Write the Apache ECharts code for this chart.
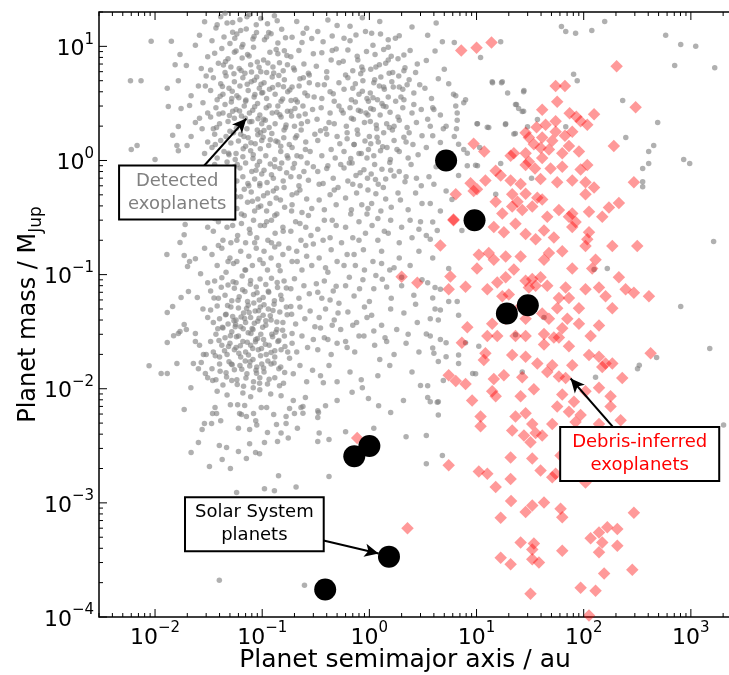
<!DOCTYPE html>
<html>
<head>
<meta charset="utf-8">
<script src="https://cdn.jsdelivr.net/npm/echarts@6/dist/echarts.min.js"></script>
<style>
  html, body { margin: 0; padding: 0; background: #fff; }
  #chart { width: 729px; height: 675px; }
</style>
</head>
<body>
<div id="chart"></div>
<script>
// axis ranges and tick values
const xRange = [0.003, 3000];
const yRange = [0.0001, 20];
const xDecades = [0.001, 0.01, 0.1, 1, 10, 100, 1000];
const yDecades = [0.0001, 0.001, 0.01, 0.1, 1, 10];
const minorMantissas = [2, 3, 4, 5, 6, 7, 8, 9];

// solar system planets [a (au), M (M_Jup)]
const solarPlanets = [
  [0.387, 1.74e-4], [0.723, 2.56e-3], [1.0, 3.15e-3], [1.524, 3.38e-4],
  [5.2, 1.0], [9.58, 0.299], [19.2, 0.0457], [30.1, 0.054]
];

// detected exoplanets, left fringe
const grayLeftFringe = [
  [0.0092,11.1],[0.0142,11.1],[0.0059,5.0],[0.0074,5.0],[0.013,4.3],[0.0165,5.0],[0.0133,2.97],[0.0154,6.9],
  [0.0171,8.5],[0.0196,6.8],[0.0238,10.2],[0.0175,2.86],[0.0165,1.99],[0.0146,1.66],[0.016,1.35],[0.0165,1.22],
  [0.0068,1.35],[0.006,1.25],[0.01,1.02],[0.021,3.03],[0.0217,3.7],[0.0254,4.5],[0.0238,2.15],[0.0295,4.5],
  [0.0275,1.9],[0.0217,1.62],[0.0199,1.35],
  [0.0129,0.15],[0.0171,0.191],[0.0187,0.224],[0.0191,0.275],[0.0187,0.147],[0.021,0.13],[0.0238,0.138],
  [0.0201,0.118],[0.0266,0.102],[0.0205,0.071],[0.0175,0.063],[0.0248,0.063],[0.0146,0.0525],[0.013,0.0465],
  [0.0187,0.0365],[0.0196,0.033],[0.0165,0.0305],[0.0149,0.0292],[0.013,0.0254],[0.0171,0.0317],[0.0238,0.0305],
  [0.0238,0.0259],[0.016,0.0166],[0.0088,0.0159],[0.0114,0.0136],[0.013,0.0136],[0.0228,0.0166],[0.0216,0.0102],
  [0.0254,0.015],[0.0283,0.02],[0.0295,0.0136],
  [0.026,12.5],[0.029,16.4],[0.031,8.1],[0.027,6.4],[0.03,5.5],[0.028,3.2],[0.031,2.6],[0.026,2.35],[0.029,1.15],
  [0.031,1.45],[0.027,0.75],[0.03,0.6],[0.028,0.44],[0.031,0.26],[0.029,0.17],[0.031,0.085],[0.028,0.05],
  [0.031,0.042],[0.026,0.024],[0.03,0.02],[0.031,0.0125],[0.027,0.017]
];

// detected exoplanets, inner cluster (0.03 - 0.3 au)
const grayInner = [
  [0.034,11.2],[0.037,14.5],[0.041,18.2],[0.044,12.1],[0.047,16],[0.05,10.6],[0.053,13.3],
  [0.033,6.2],[0.036,8.7],[0.039,7.1],[0.042,9.6],[0.045,5.9],[0.048,7.8],[0.051,6.6],[0.055,8.9],
  [0.033,4.1],[0.035,5.3],[0.038,3.4],[0.041,4.7],[0.043,3.8],[0.046,5.5],[0.049,4.3],[0.052,3.5],[0.055,4.9],
  [0.033,2.4],[0.035,1.9],[0.037,2.9],[0.04,2.1],[0.043,2.6],[0.045,3.1],[0.048,2.2],[0.05,1.8],[0.053,2.7],[0.055,2.35],
  [0.034,1.3],[0.036,1.7],[0.038,1.05],[0.041,1.5],[0.044,1.2],[0.046,1.62],[0.049,1.12],[0.051,1.42],[0.054,1.75],[0.056,1.02],
  [0.033,0.74],[0.036,0.92],[0.039,0.61],[0.042,0.83],[0.045,0.68],[0.047,0.97],[0.05,0.59],[0.053,0.77],[0.055,0.88],
  [0.034,0.44],[0.038,0.37],[0.041,0.52],[0.045,0.34],[0.049,0.47],[0.052,0.4],[0.055,0.55],
  [0.035,0.24],[0.039,0.29],[0.043,0.2],[0.047,0.26],[0.051,0.19],[0.054,0.31],
  [0.034,0.15],[0.038,0.12],[0.042,0.17],[0.046,0.105],[0.05,0.14],[0.054,0.125],
  [0.033,0.072],[0.036,0.088],[0.039,0.062],[0.042,0.094],[0.045,0.066],[0.048,0.081],[0.052,0.059],[0.055,0.076],
  [0.033,0.049],[0.035,0.038],[0.038,0.053],[0.04,0.041],[0.043,0.034],[0.046,0.045],[0.048,0.037],[0.051,0.052],[0.053,0.043],[0.056,0.035],
  [0.033,0.026],[0.035,0.021],[0.037,0.03],[0.04,0.019],[0.042,0.024],[0.045,0.028],[0.047,0.02],[0.05,0.025],[0.052,0.0315],[0.055,0.022],
  [0.034,0.015],[0.037,0.012],[0.04,0.0165],[0.043,0.0108],[0.046,0.0138],[0.049,0.0172],[0.052,0.0118],[0.055,0.0147],
  [0.058,12.8],[0.062,17.1],[0.066,10.4],[0.071,14.2],[0.076,19],[0.082,11.6],[0.088,15.5],
  [0.057,9.1],[0.061,6.4],[0.065,7.9],[0.069,5.8],[0.073,8.5],[0.078,6.9],[0.083,9.8],[0.09,7.3],[0.097,6.0],
  [0.058,3.7],[0.062,4.5],[0.066,5.3],[0.07,3.3],[0.074,4.1],[0.079,4.9],[0.084,3.6],[0.089,5.4],[0.094,4.3],[0.099,3.9],
  [0.057,2.8],[0.06,2.05],[0.064,2.45],[0.068,3.0],[0.072,1.9],[0.076,2.6],[0.08,2.2],[0.085,2.95],[0.09,1.85],[0.095,2.5],[0.099,2.1],
  [0.057,1.15],[0.06,1.48],[0.063,1.7],[0.066,1.08],[0.07,1.33],[0.074,1.58],[0.078,1.22],[0.082,1.04],[0.086,1.4],[0.091,1.68],[0.096,1.27],[0.099,1.5],
  [0.058,0.66],[0.062,0.86],[0.066,0.72],[0.07,0.95],[0.075,0.6],[0.08,0.8],[0.085,0.69],[0.09,0.91],[0.095,0.63],[0.099,0.76],
  [0.058,0.38],[0.063,0.48],[0.068,0.33],[0.073,0.43],[0.079,0.53],[0.085,0.36],[0.091,0.46],[0.097,0.4],
  [0.059,0.22],[0.064,0.28],[0.07,0.19],[0.076,0.25],[0.083,0.3],[0.089,0.21],[0.096,0.27],
  [0.058,0.13],[0.063,0.16],[0.069,0.11],[0.075,0.145],[0.081,0.12],[0.088,0.17],[0.095,0.135],
  [0.057,0.085],[0.061,0.064],[0.065,0.097],[0.069,0.071],[0.073,0.058],[0.078,0.089],[0.083,0.067],[0.088,0.078],[0.094,0.06],
  [0.057,0.04],[0.06,0.051],[0.063,0.035],[0.067,0.046],[0.07,0.038],[0.074,0.054],[0.078,0.042],[0.082,0.033],[0.086,0.048],[0.091,0.039],[0.096,0.052],
  [0.057,0.023],[0.06,0.029],[0.063,0.019],[0.066,0.026],[0.07,0.021],[0.074,0.031],[0.078,0.024],[0.082,0.018],[0.087,0.027],[0.092,0.022],[0.097,0.03],
  [0.058,0.012],[0.062,0.016],[0.067,0.0105],[0.072,0.0135],[0.077,0.0172],[0.083,0.0115],[0.089,0.0155],[0.095,0.0125],[0.099,0.0165],
  [0.105,11.4],[0.112,15.8],[0.121,12.9],[0.13,18.5],[0.14,10.7],[0.152,14.1],
  [0.103,7.6],[0.11,5.9],[0.118,8.9],[0.126,6.6],[0.135,9.4],[0.145,7.2],[0.157,6.1],[0.17,8.3],
  [0.104,4.8],[0.11,3.5],[0.117,4.2],[0.124,5.4],[0.132,3.8],[0.141,4.6],[0.15,3.3],[0.161,5.1],[0.173,4.0],
  [0.103,2.3],[0.109,2.9],[0.116,1.95],[0.124,2.6],[0.132,2.1],[0.14,3.0],[0.15,2.4],[0.16,1.85],[0.172,2.7],
  [0.102,1.6],[0.108,1.1],[0.115,1.35],[0.123,1.72],[0.131,1.02],[0.14,1.45],[0.149,1.2],[0.159,1.58],[0.171,1.1],
  [0.104,0.82],[0.111,0.64],[0.119,0.93],[0.127,0.7],[0.136,0.57],[0.146,0.85],[0.157,0.66],[0.169,0.78],
  [0.103,0.49],[0.11,0.36],[0.118,0.42],[0.127,0.54],[0.137,0.34],[0.148,0.45],[0.162,0.39],
  [0.105,0.27],[0.113,0.2],[0.122,0.3],[0.132,0.23],[0.143,0.185],[0.156,0.26],
  [0.104,0.16],[0.112,0.11],[0.121,0.14],[0.131,0.175],[0.142,0.12],[0.156,0.15],
  [0.102,0.063],[0.108,0.082],[0.115,0.07],[0.122,0.093],[0.13,0.059],[0.139,0.077],[0.149,0.066],[0.16,0.088],
  [0.102,0.044],[0.108,0.036],[0.114,0.05],[0.121,0.04],[0.129,0.055],[0.137,0.033],[0.146,0.047],[0.156,0.038],[0.168,0.052],
  [0.103,0.027],[0.109,0.02],[0.116,0.024],[0.123,0.03],[0.131,0.019],[0.14,0.026],[0.15,0.022],[0.161,0.029],[0.173,0.021],
  [0.104,0.014],[0.112,0.011],[0.121,0.0165],[0.131,0.0125],[0.143,0.015],[0.158,0.0112],
  [0.19,12],[0.21,16.5],[0.235,10.8],[0.26,14.4],[0.29,11.7],
  [0.185,8.1],[0.2,6.2],[0.22,9.2],[0.245,7],[0.27,5.8],[0.3,8.6],
  [0.19,4.4],[0.205,3.4],[0.225,5.2],[0.25,3.9],[0.275,4.8],[0.305,3.6],
  [0.185,2.7],[0.2,2.0],[0.22,2.45],[0.24,3.0],[0.265,2.2],[0.295,2.8],
  [0.19,1.3],[0.21,1.65],[0.23,1.08],[0.255,1.45],[0.28,1.2],[0.31,1.7],
  [0.185,0.72],[0.2,0.94],[0.22,0.6],[0.245,0.8],[0.27,0.67],[0.3,0.88],
  [0.19,0.41],[0.21,0.52],[0.235,0.35],[0.26,0.46],[0.29,0.38],
  [0.185,0.24],[0.205,0.29],[0.23,0.2],[0.255,0.26],[0.285,0.22],
  [0.19,0.13],[0.21,0.16],[0.235,0.11],[0.26,0.145],[0.29,0.12],
  [0.185,0.075],[0.2,0.092],[0.22,0.062],[0.245,0.08],[0.275,0.068],
  [0.188,0.045],[0.205,0.037],[0.225,0.052],[0.25,0.041],[0.28,0.048],[0.31,0.035],
  [0.19,0.025],[0.21,0.021],[0.235,0.029],[0.265,0.023],[0.3,0.027],
  [0.195,0.0135],[0.225,0.016],[0.26,0.0115],[0.295,0.0145]
];

// detected exoplanets, the densest parts of the three clumps
const grayCore = [
  [0.0365,1.38],[0.0395,2.55],[0.0425,4.45],[0.0455,7.35],[0.0485,1.16],[0.0515,3.25],[0.0545,5.75],
  [0.0575,1.92],[0.0605,3.55],[0.0635,6.15],[0.0665,1.27],[0.0695,2.35],[0.0725,4.65],[0.0755,8.25],
  [0.0785,1.43],[0.0815,2.75],[0.0845,5.05],[0.0875,0.82],[0.0905,3.15],[0.0935,6.55],[0.0965,1.75],
  [0.101,3.95],[0.107,2.25],[0.113,7.15],[0.119,1.52],[0.125,4.35],[0.131,0.88],[0.137,2.65],[0.143,5.55],
  [0.149,1.33],[0.155,3.45],[0.161,9.15],[0.167,2.05],[0.174,1.05],[0.181,4.15],[0.188,2.45],[0.196,6.45],
  [0.204,1.58],[0.213,3.25],[0.222,0.72],[0.232,2.1],[0.242,5.3],[0.253,1.25],[0.265,3.7],
  [0.0345,0.68],[0.0375,1.95],[0.0405,3.65],[0.0435,6.85],[0.0465,0.78],[0.0495,2.48],[0.0525,4.05],
  [0.0555,11.8],[0.0585,0.92],[0.0615,2.72],[0.0645,9.85],[0.0675,1.62],[0.0705,3.38],[0.0735,0.63],
  [0.0765,2.18],[0.0795,5.95],[0.0825,1.12],[0.0855,3.78],[0.0885,13.2],[0.0915,2.32],[0.0945,0.98],
  [0.0975,4.65],[0.104,1.83],[0.11,12.1],[0.116,3.02],[0.122,0.75],[0.128,5.85],[0.134,1.48],[0.14,8.6],
  [0.146,2.52],[0.152,0.95],[0.158,4.42],[0.165,1.95],[0.172,6.9],[0.179,1.38],[0.186,3.35],[0.194,0.86],
  [0.202,2.85],[0.211,1.1],[0.221,4.5],[0.231,1.85],[0.241,13],[0.252,2.55],[0.263,0.95],[0.275,5.6],
  [0.038,15.5],[0.045,19.5],[0.053,16.2],[0.063,13.8],[0.072,18.2],[0.084,12.2],[0.097,17.5],[0.115,13.2],[0.138,16.8],[0.165,11.9],
  [0.041,0.55],[0.048,0.62],[0.057,0.48],[0.068,0.56],[0.081,0.44],[0.095,0.6],[0.112,0.52],[0.135,0.47],[0.16,0.58],[0.19,0.5],[0.225,0.55],
  [0.036,0.31],[0.044,0.37],[0.053,0.27],[0.064,0.34],[0.077,0.23],[0.092,0.39],[0.11,0.29],[0.131,0.33],[0.157,0.24],[0.188,0.36],[0.225,0.28],[0.27,0.33],
  [0.039,0.18],[0.048,0.13],[0.058,0.2],[0.07,0.11],[0.085,0.19],[0.102,0.125],[0.122,0.19],[0.147,0.108],[0.177,0.17],[0.212,0.13],[0.255,0.18],
  [0.0365,0.0195],[0.0395,0.0265],[0.0425,0.0345],[0.0455,0.0445],[0.0485,0.0235],[0.0515,0.0165],[0.0545,0.0395],
  [0.0575,0.0285],[0.0605,0.0205],[0.0635,0.0425],[0.0665,0.0335],[0.0695,0.0175],[0.0725,0.0255],[0.0755,0.0465],
  [0.0785,0.0305],[0.0815,0.0225],[0.0845,0.0375],[0.0875,0.0145],[0.0905,0.0275],[0.0935,0.0415],[0.0965,0.0195],
  [0.101,0.0345],[0.107,0.0245],[0.113,0.0175],[0.119,0.0435],[0.125,0.0285],[0.131,0.0215],[0.137,0.0385],
  [0.143,0.0265],[0.149,0.0155],[0.155,0.0325],[0.163,0.0235],[0.171,0.0445],[0.18,0.0185],[0.19,0.0305],
  [0.0355,0.0625],[0.0415,0.0775],[0.0475,0.0535],[0.0535,0.0865],[0.0595,0.0595],[0.0655,0.0735],[0.0715,0.0505],
  [0.0775,0.0825],[0.0835,0.0565],[0.0895,0.0695],[0.0955,0.0915],[0.104,0.0545],[0.114,0.0715],[0.126,0.0485],
  [0.138,0.0855],[0.152,0.0605],[0.168,0.0765],[0.185,0.0525],
  [0.0345,0.0118],[0.0405,0.0142],[0.0465,0.0127],[0.0525,0.0162],[0.0585,0.0109],[0.0645,0.0148],[0.0705,0.0124],
  [0.0765,0.0158],[0.0825,0.0102],[0.0885,0.0137],[0.0945,0.0112],[0.103,0.0152],[0.116,0.0121],[0.129,0.0168],[0.145,0.0106],[0.162,0.0139],
  [0.0385,0.0335],[0.0445,0.0215],[0.0505,0.0292],[0.0565,0.0365],[0.0625,0.0238],[0.0685,0.0412],[0.0745,0.0198],[0.0805,0.0338],
  [0.0865,0.0258],[0.0925,0.0482],[0.0985,0.0225],[0.108,0.0395],[0.121,0.0208],[0.134,0.0312],
  [0.62,1.75],[0.68,2.35],[0.74,3.25],[0.8,1.15],[0.86,4.05],[0.93,2.6],[1.0,1.62],[1.08,3.55],[1.16,2.05],
  [1.24,4.5],[1.33,1.32],[1.43,2.95],[1.53,5.8],[1.64,1.85],[1.76,3.3],[1.9,2.25],[2.05,4.2],[2.2,1.45],
  [0.65,0.95],[0.72,1.38],[0.79,2.75],[0.87,6.2],[0.95,1.05],[1.03,2.85],[1.12,5.1],[1.21,1.45],[1.31,3.15],
  [1.42,7.1],[1.54,1.95],[1.67,4.4],[1.81,1.25],[1.97,3.6],[2.15,6.5],[2.35,1.75],[2.6,3.1],
  [0.7,0.62],[0.82,0.78],[0.97,0.55],[1.14,0.68],[1.35,0.58],[1.58,0.82],[1.85,0.52],[2.2,0.72],
  [0.66,11.2],[0.78,7.6],[0.92,13.5],[1.08,10.2],[1.27,12.8],[1.5,9.8],[1.75,11.8],[2.1,8.4],
  [0.6,5.6],[0.7,4.3],[0.83,5.75],[0.98,3.3],[1.15,6.6],[1.36,4.4],[1.6,8.2],[1.88,5.5],[2.25,4.6],[2.7,5.9],
  [0.42,2.15],[0.46,3.85],[0.5,1.62],[0.55,2.75],[0.38,4.6],[0.35,1.82],[0.52,7.2],[0.45,9.2],
  [0.34,0.62],[0.4,0.85],[0.47,0.55],[0.54,0.92],
  [0.32,0.083],[0.36,0.062],[0.41,0.105],[0.46,0.072],[0.52,0.056],[0.58,0.12],[0.65,0.095],[0.72,0.15],
  [0.81,0.075],[0.9,0.11],[1.0,0.058],[1.15,0.098],[1.3,0.125],[1.45,0.078],[1.7,0.115],[2.0,0.095],
  [0.35,0.034],[0.41,0.027],[0.47,0.04],[0.54,0.033],[0.62,0.023],[0.7,0.036],[0.8,0.029],[0.95,0.042],
  [1.1,0.032],[1.25,0.018],[1.45,0.026],[1.8,0.033],[2.3,0.03],[2.7,0.055],
  [0.3,0.185],[0.37,0.2],[0.45,0.3],[0.55,0.19],[0.67,0.34],[0.8,0.2],[0.97,0.38],[1.2,0.31],[1.5,0.23],[1.9,0.19],[2.4,0.3],[2.9,0.25]
];

// detected exoplanets, outer cluster (0.3 - 5 au)
const grayOuter = [
  [0.33,13.5],[0.37,11],[0.41,17],[0.45,12.3],[0.5,15.2],
  [0.32,6.7],[0.36,8.8],[0.4,6.0],[0.44,7.6],[0.49,9.5],
  [0.33,4.6],[0.36,3.5],[0.4,5.3],[0.43,4.0],[0.47,3.3],[0.52,4.8],
  [0.325,2.3],[0.355,2.9],[0.39,1.9],[0.43,2.6],[0.47,2.1],[0.52,3.0],
  [0.33,1.5],[0.36,1.1],[0.4,1.7],[0.44,1.25],[0.48,1.05],[0.53,1.4],
  [0.33,0.8],[0.37,0.63],[0.41,0.9],[0.46,0.7],[0.51,0.58],
  [0.34,0.45],[0.38,0.37],[0.43,0.5],[0.49,0.41],
  [0.33,0.25],[0.38,0.3],[0.43,0.21],[0.49,0.27],
  [0.34,0.14],[0.39,0.115],[0.44,0.165],[0.5,0.13],
  [0.33,0.07],[0.38,0.088],[0.43,0.06],[0.49,0.079],
  [0.34,0.042],[0.39,0.05],[0.45,0.036],[0.51,0.046],
  [0.33,0.022],[0.38,0.028],[0.44,0.02],[0.5,0.025],
  [0.35,0.013],[0.42,0.016],[0.5,0.0115],
  [0.58,11.8],[0.66,15],[0.75,12.6],[0.86,17.8],
  [0.57,7.4],[0.63,9.3],[0.7,6.1],[0.77,8.2],[0.85,6.6],[0.94,9.0],
  [0.58,4.2],[0.63,5.3],[0.68,3.4],[0.74,4.7],[0.8,3.8],[0.87,5.0],[0.95,3.5],
  [0.57,2.6],[0.61,2.0],[0.66,2.9],[0.71,2.3],[0.77,1.85],[0.83,2.7],[0.9,2.15],[0.97,2.5],
  [0.58,1.2],[0.62,1.55],[0.67,1.04],[0.72,1.38],[0.78,1.7],[0.84,1.15],[0.91,1.48],[0.98,1.25],
  [0.58,0.86],[0.63,0.66],[0.69,0.95],[0.75,0.74],[0.82,0.6],[0.89,0.83],[0.96,0.7],
  [0.6,0.47],[0.68,0.37],[0.76,0.52],[0.85,0.41],[0.95,0.34],
  [0.6,0.26],[0.7,0.21],[0.8,0.29],[0.92,0.23],
  [0.62,0.15],[0.74,0.12],[0.88,0.165],
  [0.6,0.08],[0.72,0.065],[0.87,0.09],
  [0.63,0.047],[0.76,0.038],[0.9,0.052],
  [0.6,0.026],[0.73,0.021],[0.89,0.029],
  [0.66,0.014],[0.84,0.012],
  [1.05,13],[1.25,16.5],[1.5,11.4],
  [1.03,6.3],[1.13,8.5],[1.24,6.9],[1.36,9.4],[1.5,7.6],[1.65,5.9],
  [1.02,3.9],[1.1,4.8],[1.19,3.4],[1.28,5.4],[1.38,4.2],[1.5,3.6],[1.62,4.9],
  [1.02,2.2],[1.09,2.8],[1.17,1.9],[1.26,2.5],[1.35,3.0],[1.45,2.1],[1.56,2.65],[1.7,2.0],
  [1.03,1.4],[1.1,1.1],[1.18,1.6],[1.27,1.22],[1.36,1.75],[1.46,1.3],[1.57,1.02],[1.7,1.5],
  [1.04,0.76],[1.12,0.92],[1.21,0.62],[1.31,0.84],[1.42,0.69],[1.55,0.96],[1.7,0.73],
  [1.05,0.42],[1.15,0.51],[1.28,0.36],[1.42,0.46],[1.6,0.39],
  [1.06,0.27],[1.2,0.2],[1.38,0.24],[1.58,0.3],
  [1.08,0.13],[1.3,0.16],[1.55,0.11],
  [1.1,0.075],[1.32,0.091],[1.6,0.062],
  [1.05,0.044],[1.3,0.036],[1.58,0.05],
  [1.12,0.024],[1.4,0.028],[1.7,0.02],
  [1.2,0.013],[1.55,0.016],
  [1.9,12.4],[2.5,14.8],
  [1.85,7.8],[2.1,6.1],[2.4,9.2],[2.8,7.0],
  [1.9,4.4],[2.1,3.4],[2.35,5.1],[2.6,3.9],[2.95,4.6],
  [1.85,2.4],[2.05,2.9],[2.25,1.95],[2.5,2.6],[2.75,2.15],[3.05,2.8],
  [1.9,1.2],[2.1,1.6],[2.3,1.05],[2.55,1.38],[2.85,1.12],[3.1,1.65],
  [1.9,0.8],[2.15,0.65],[2.45,0.92],[2.75,0.7],[3.05,0.6],
  [1.95,0.45],[2.3,0.37],[2.7,0.52],[3.1,0.42],
  [2.0,0.26],[2.5,0.21],[3.0,0.29],
  [1.9,0.14],[2.4,0.12],[2.9,0.16],
  [2.0,0.08],[2.6,0.066],[3.1,0.09],
  [2.1,0.046],[2.8,0.038],
  [2.2,0.025],[2.9,0.021],
  [2.5,0.014],
  [3.5,12.5],[4.2,16],[4.8,11],[3.4,7.5],[4.1,9.1],[5.0,6.3],
  [3.3,4.3],[3.8,3.5],[4.4,5.2],[3.5,2.3],[4.0,2.8],[4.9,1.9],[3.4,1.3],[3.9,1.65],[4.5,1.1],
  [3.6,0.72],[4.2,0.88],[3.7,0.42],[4.6,0.36],[3.4,0.22],[3.9,0.14],[3.5,0.085],[4.1,0.05]
];

// detected exoplanets, low-mass tail
const grayLow = [
  [0.0187,0.00657],[0.0217,0.00276],[0.0254,0.00338],[0.0289,0.00495],[0.0275,0.00439],[0.0322,0.00208],
  [0.0398,0.00318],[0.0423,0.0024],[0.0465,0.00305],[0.0505,0.002],[0.06,0.00282],[0.0577,0.00123],
  [0.0712,0.00245],[0.0763,0.0033],[0.0867,0.00276],[0.0945,0.0027],[0.105,0.00338],[0.105,0.00133],
  [0.13,0.00128],[0.142,0.00173],[0.139,0.00345],[0.15,0.0041],[0.175,0.0037],[0.207,0.00138],[0.213,0.0045],
  [0.33,0.00345],[0.34,0.0041],[0.42,0.0036],[0.42,0.0017],[0.0398,2.1e-4],[0.248,1.9e-4],
  [0.0363,0.00684],[0.0344,0.00607],[0.0375,0.00607],[0.041,0.00525],[0.0337,0.00495],[0.0505,0.00725],
  [0.059,0.00725],[0.0615,0.00607],[0.0686,0.00713],[0.064,0.00596],[0.0712,0.0057],[0.083,0.00607],
  [0.087,0.00525],[0.089,0.0048],[0.0763,0.00439],[0.06,0.0045],[0.098,0.00684],[0.11,0.00684],
  [0.128,0.00596],[0.112,0.00413],[0.136,0.00485],[0.167,0.00495],[0.167,0.0057],[0.18,0.0067],
  [0.2,0.00607],[0.23,0.00684],[0.24,0.007],[0.335,0.0062],[0.33,0.0056],[0.39,0.0071],
  [0.195,0.0079],[0.253,0.0084],[0.372,0.0113],[0.5,0.0079],[0.69,0.0093],[0.86,0.0102],[0.98,0.0082],
  [1.22,0.0071],[1.58,0.0062],[2.08,0.0079],[3.0,0.0107],[3.5,0.0084],[4.3,0.0076],[4.9,0.0118],
  [9.2,0.0136],[0.24,0.0061],[0.33,0.0064],
  [0.038,0.0095],[0.047,0.0088],[0.066,0.0092],[0.078,0.0085],[0.095,0.0098],[0.12,0.009],[0.15,0.0087],
  [0.6,0.0042],[1.1,0.0045],[2.2,0.0038]
];

// detected exoplanets beyond ~3 au
const grayFar = [
  [5.5,4.7],[6.4,3.7],[7.6,3.2],[3.9,2.9],[4.6,2.5],[6.6,2.6],[3.7,2.0],[5.2,2.0],[6.6,2.25],[10.1,2.1],
  [12.6,1.96],[18.7,2.1],[23.1,3.1],[27.7,4.1],[17.4,4.9],[14,4.9],[4.6,1.44],[6.8,1.39],[8.2,1.16],
  [9.8,0.91],[6.8,0.74],[4.0,0.62],[5.2,0.54],[5.9,0.455],[3.9,0.289],[4.3,0.243],[7.3,0.243],[3.7,0.204],
  [22.3,1.71],[26.7,2.69],[16.8,0.94],[15.1,0.505],
  [5.5,0.113],[4.1,0.077],[4.6,0.0745],[6.6,0.058],[3.9,0.0625],[5.5,0.058],[4.6,0.049],[3.7,0.041],
  [4.4,0.04],[6.8,0.044],[3.4,0.0301],[3.7,0.029],[4.6,0.027],[5.2,0.0253],[3.9,0.0228],[5.2,0.0191],
  [7.9,0.0253],[4.0,0.0205],[4.4,0.0173],[6.8,0.0198],[10.5,0.0236],[9.8,0.0135],[6.8,0.0166],[3.5,0.0106],
  [3.7,0.0077],[4.4,0.0077],[4.4,0.0059],[3.4,0.0039],[4.8,0.0026],[3.4,0.0022],
  [26.7,0.014],[129,0.0126],[330,0.0161],[42.6,0.042],[23.1,0.0297],[125,0.111],[166,0.113],
  [62,14.9],[68,13.5],[84,13],[119,13.8],[157,16.5],[582,12.5],[804,10.4],[1110,10.0],[706,6.8],[1670,6.5],
  [231,3.36],[490,2.15],[247,1.59],[450,1.35],[404,1.2],[404,0.94],[857,1.02],[975,0.94],[355,0.85],
  [355,0.65],[355,0.59],[1630,0.195],[804,0.0525],[1500,0.0225],[479,0.0188],[318,0.015],[2020,0.0048],
  [16.8,11],[10.9,8],[14.1,4.8],[17.1,4.8],[19.5,3.9],[27.5,4.0],[23.6,3.1],[27.5,2.7],[80.5,5.7],[87,5.0],
  [6.2,10.8],[6.1,3.8],[6.4,3.0],[7.9,3.4],[10.2,2.1],[13,1.95],[10.7,1.3],[6.5,1.9],[6.2,1.62],[8.2,0.9],
  [10.2,0.9],[7.6,1.25],[18.6,2.07],[24.7,2.86],[29.9,1.98],[37,2.29],[23,1.72],[32.6,0.7],[68,1.98]
];

// debris-inferred exoplanets [a (au), M (M_Jup)]
const debrisPlanets = [
  [7.2,9.2],[10,9.7],[13.8,10.8],[203,6.7],[2.0,0.096],[2.8,0.085],[0.77,0.0037],[2.27,6.0e-4],
  [54.7,4.5],[66.8,4.5],[56.6,3.27],[305,2.92],[41,2.78],[73.9,2.59],[85.3,2.42],[125,2.54],
  [93.6,2.21],[108,2.06],[54.7,2.21],[44.1,2.06],[36.3,1.96],[54.7,1.79],[78.2,1.79],[66.8,1.65],
  [30.8,1.59],[41,1.59],[50.9,1.49],[191,1.34],[34.3,1.39],[63.1,1.16],[28.7,1.16],[39.6,1.29],
  [72.8,1.34],[90.3,1.2],[22.3,1.16],[20.8,1.1],[30.8,0.977],[41,1.05],[28.7,0.911],[35.1,0.851],
  [49.1,0.851],[63.1,0.881],[108,0.911],[93.6,0.834],[15.1,0.811],[16.8,0.74],[12.1,0.667],[8.8,0.631],
  [10.1,0.561],[25.8,0.622],[39.6,0.69],[56.6,0.644],[78.2,0.667],[104,0.644],[125,0.581],[294,0.644],
  [20.8,0.667],[9.4,0.541],[21.5,0.505],[28.7,0.512],[41,0.455],[15.1,0.434],[36.9,0.471],[6.4,0.505],
  [104,0.505],[213,0.425],[21.5,0.396],[26.7,0.369],[33.1,0.396],[58.7,0.369],[112,0.356],[172,0.388],
  [6.1,0.299],[17.4,0.344],[45.7,0.321],[72.8,0.321],[84,0.289],[149,0.321],[14.5,0.261],[18,0.235],
  [23.1,0.279],[28.7,0.227],[42.6,0.243],[52.7,0.211],[78.2,0.261],[108,0.204],[35.6,0.204],[104,0.178],
  [185,0.178],[316,0.178],[4.6,0.18],[13,0.155],[10.5,0.149],[18.7,0.144],[14.5,0.135],[25.8,0.144],
  [42.6,0.135],[47.4,0.155],[63.1,0.16],[129,0.135],[120,0.113],[10.1,0.113],[22.3,0.111],[78.2,0.113],
  [5.7,0.0964],[7.9,0.0782],[15.6,0.0855],[18.7,0.0949],[213,0.0949],[28.7,0.0885],[33.1,0.0917],
  [39.6,0.0949],[45.7,0.0798],[67.8,0.0771],[104,0.0745],[246,0.0745],[139,0.0771],[12.6,0.0745],
  [5.5,0.0745],[294,0.0694],[17.4,0.0647],[20,0.067],[58.7,0.0625],[72.8,0.0625],[160,0.0647],
  [406,0.0647],[90.3,0.0507],[185,0.0507],[25.8,0.0525],[14,0.0371],[15.6,0.029],[18.7,0.0411],
  [28.7,0.0411],[41,0.0457],[47.4,0.0411],[56.6,0.0507],[70.3,0.0411],[90.3,0.0371],[139,0.0358],
  [63.1,0.0339],[12.6,0.029],[8.2,0.0346],[7.3,0.0253],[28.7,0.029],[23.1,0.029],[42.6,0.0301],
  [52.7,0.0281],[58.7,0.0281],[72.8,0.0236],[116,0.029],[42.6,0.0244],[12.1,0.0205],[11.7,0.0179],
  [21.5,0.0198],[28.7,0.0191],[36.9,0.0166],[45.7,0.014],[50.9,0.0161],[78.2,0.0161],[139,0.0191],
  [160,0.0166],[185,0.0166],[421,0.0205],[112,0.0198],[5.5,0.0131],[7.9,0.011],[6.4,0.0117],[14.5,0.0122],
  [18,0.0131],[26.7,0.0126],[58.7,0.0128],[67.8,0.0124],[229,0.0124],[149,0.0155],[14,0.0095],[9.1,0.0079],
  [15.1,0.0086],[25.8,0.0086],[34.3,0.0099],[63.1,0.0089],[81.1,0.0077],[139,0.0102],[178,0.0086],
  [104,0.0095],[56.6,0.007],[72.8,0.0063],[93.6,0.0059],[178,0.007],[221,0.0053],[10.9,0.0057],
  [10.9,0.0047],[23.1,0.0057],[28.7,0.0061],[21.5,0.0043],[33.1,0.0049],[35.6,0.0041],[41,0.0039],
  [27.7,0.0039],[50.9,0.0049],[84,0.0051],[139,0.0049],[31.9,0.0034],[20.8,0.0025],[33.1,0.00245],
  [60.8,0.0026],[5.5,0.00214],[10.5,0.00188],[12.6,0.0018],[39.6,0.00192],[50.9,0.00168],[54.7,0.0018],
  [15.1,0.00138],[20.8,0.00162],[104,0.00151],[21,0.00104],[28.7,8.3e-4],[33.1,9.5e-4],[42.6,1.01e-3],
  [60.8,8.9e-4],[63.1,7.5e-4],[16.8,7.4e-4],[294,8.2e-4],[25.8,4.5e-4],[34.3,4.4e-4],[33.1,3.9e-4],
  [116,4.9e-4],[139,5.5e-4],[166,6.1e-4],[206,5.9e-4],[149,4.5e-4],[139,3.7e-4],[206,4.2e-4],[63.1,3.8e-4],
  [16.8,3.3e-4],[20.8,2.9e-4],[33.1,3.2e-4],[38.2,3.0e-4],[155,2.4e-4],[284,2.6e-4],[93.6,1.8e-4],
  [129,1.7e-4],[31.9,1.6e-4],[112,1.03e-4],
  [30.8,0.0771],[35.6,0.0798],[24.1,0.434],[78.2,0.344],[112,0.235],[47.4,1.25],[28.7,1.75],
  [6.1,0.304],[9.4,1.4],[11.8,1.2]
];

// annotation anchors [a, M]
const detectedLabelAt = [0.0161, 0.524];
const detectedArrow = [[0.0283, 0.886], [0.0711, 2.33]];
const solarLabelAt = [0.0845, 6.5e-4];
const solarArrow = [[0.365, 4.7e-4], [1.22, 3.6e-4]];
const debrisLabelAt = [333, 0.00268];
const debrisArrow = [[190, 0.00457], [75.5, 0.0123]];

const FONT = 'DejaVu Sans';

function ticksFor(decades, range) {
  const major = decades.filter(v => v >= range[0] && v <= range[1]);
  const minor = [];
  decades.forEach(d => minorMantissas.forEach(m => {
    const v = d * m;
    if (v >= range[0] && v <= range[1]) minor.push(v);
  }));
  return { major, minor };
}

const xt = ticksFor(xDecades, xRange);
const yt = ticksFor(yDecades, yRange);
const xTickData = xt.major.map(v => [v, 8]).concat(xt.minor.map(v => [v, 4]));
const yTickData = yt.major.map(v => [8, v]).concat(yt.minor.map(v => [4, v]));

function powLabel(v) {
  const e = Math.log10(v);
  const r = Math.round(e);
  if (Math.abs(e - r) > 1e-6) return '';
  const s = r < 0 ? '\u2212' + (-r) : String(r);
  return '{b|10}{s|' + s + '}';
}

const labelRich = {
  b: { fontSize: 22, fontFamily: FONT, color: '#000', lineHeight: 28, verticalAlign: 'bottom' },
  s: { fontSize: 15, fontFamily: FONT, color: '#000', verticalAlign: 'top' }
};

function xTickRender(params, api) {
  const cs = params.coordSys;
  const x = api.coord([api.value(0), 1])[0];
  const len = api.value(1);
  const st = { stroke: '#000', lineWidth: 1 };
  const yb = cs.y + cs.height;
  return {
    type: 'group',
    children: [
      { type: 'line', shape: { x1: x, y1: yb, x2: x, y2: yb - len }, style: st },
      { type: 'line', shape: { x1: x, y1: cs.y, x2: x, y2: cs.y + len }, style: st }
    ]
  };
}

function yTickRender(params, api) {
  const cs = params.coordSys;
  const y = api.coord([1, api.value(1)])[1];
  const len = api.value(0);
  const st = { stroke: '#000', lineWidth: 1 };
  const xr = cs.x + cs.width;
  return {
    type: 'group',
    children: [
      { type: 'line', shape: { x1: cs.x, y1: y, x2: cs.x + len, y2: y }, style: st },
      { type: 'line', shape: { x1: xr, y1: y, x2: xr - len, y2: y }, style: st }
    ]
  };
}

// annotation box: the label carries the white fill and the black frame
function textBox(coord, text, color, pad) {
  return {
    coord: coord,
    symbol: 'rect',
    symbolSize: 2,
    itemStyle: { color: 'rgba(0,0,0,0)', borderWidth: 0 },
    label: {
      show: true, position: 'inside', formatter: text, color: color,
      fontFamily: FONT, fontSize: 18, lineHeight: 23, align: 'center', verticalAlign: 'middle',
      backgroundColor: '#fff', borderColor: '#000', borderWidth: 2, padding: pad
    }
  };
}

const chart = echarts.init(document.getElementById('chart'), null, { renderer: 'canvas' });

const grayAll = grayLeftFringe.concat(grayInner, grayCore, grayOuter, grayLow, grayFar);

chart.setOption({
  animation: false,
  backgroundColor: '#fff',
  grid: {
    left: 99, top: 12, width: 643, height: 605,
    outerBoundsMode: 'none', containLabel: false,
    show: true, borderColor: '#000', borderWidth: 1.5, backgroundColor: 'transparent'
  },
  xAxis: {
    type: 'log', min: xRange[0], max: xRange[1], splitNumber: 6,
    axisLine: { show: false }, axisTick: { show: false }, splitLine: { show: false },
    axisLabel: { margin: 4, formatter: powLabel, rich: labelRich },
    name: 'Planet semimajor axis / au', nameLocation: 'middle', nameGap: 31, nameMoveOverlap: false,
    nameTextStyle: { fontFamily: FONT, fontSize: 25, color: '#000', padding: [0, 31, 0, 0] }
  },
  yAxis: {
    type: 'log', min: yRange[0], max: yRange[1], splitNumber: 6,
    axisLine: { show: false }, axisTick: { show: false }, splitLine: { show: false },
    axisLabel: { margin: 5, formatter: powLabel, rich: labelRich },
    name: '{a|Planet mass / M}{j|Jup}', nameLocation: 'middle', nameGap: 54, nameMoveOverlap: false,
    nameTextStyle: {
      rich: {
        a: { fontFamily: FONT, fontSize: 24, color: '#000', verticalAlign: 'top' },
        j: { fontFamily: FONT, fontSize: 17, color: '#000', verticalAlign: 'bottom', padding: [11, 0, 0, 0] }
      }
    }
  },
  series: [
    {
      type: 'scatter', data: grayAll, symbol: 'circle', symbolSize: 5.5,
      itemStyle: { color: '#808080', opacity: 0.62 }, silent: true, z: 2, progressive: 0
    },
    {
      type: 'scatter', data: debrisPlanets, symbol: 'diamond', symbolSize: 12.5,
      itemStyle: { color: '#ff0000', opacity: 0.4 }, silent: true, z: 3, progressive: 0
    },
    {
      type: 'scatter', data: solarPlanets, symbol: 'circle', symbolSize: 22,
      itemStyle: { color: '#000', opacity: 1 }, silent: true, z: 4,
      markLine: {
        silent: true, animation: false,
        symbol: ['none', 'arrow'], symbolSize: [10, 14],
        lineStyle: { color: '#000', width: 2, type: 'solid', opacity: 1 },
        label: { show: false },
        data: [
          [{ coord: detectedArrow[0] }, { coord: detectedArrow[1] }],
          [{ coord: solarArrow[0] }, { coord: solarArrow[1] }],
          [{ coord: debrisArrow[0] }, { coord: debrisArrow[1] }]
        ]
      },
      markPoint: {
        silent: true, animation: false,
        data: [
          textBox(detectedLabelAt, 'Detected\nexoplanets', '#808080', [3, 8, 3, 8]),
          textBox(solarLabelAt, 'Solar System\nplanets', '#000', [3, 9, 3, 9]),
          textBox(debrisLabelAt, 'Debris-inferred\nexoplanets', '#ff0000', [3, 11, 3, 11])
        ]
      }
    },
    {
      type: 'custom', data: xTickData, renderItem: xTickRender, silent: true, clip: false, z: 5
    },
    {
      type: 'custom', data: yTickData, renderItem: yTickRender, silent: true, clip: false, z: 5
    }
  ]
});
</script>
</body>
</html>
